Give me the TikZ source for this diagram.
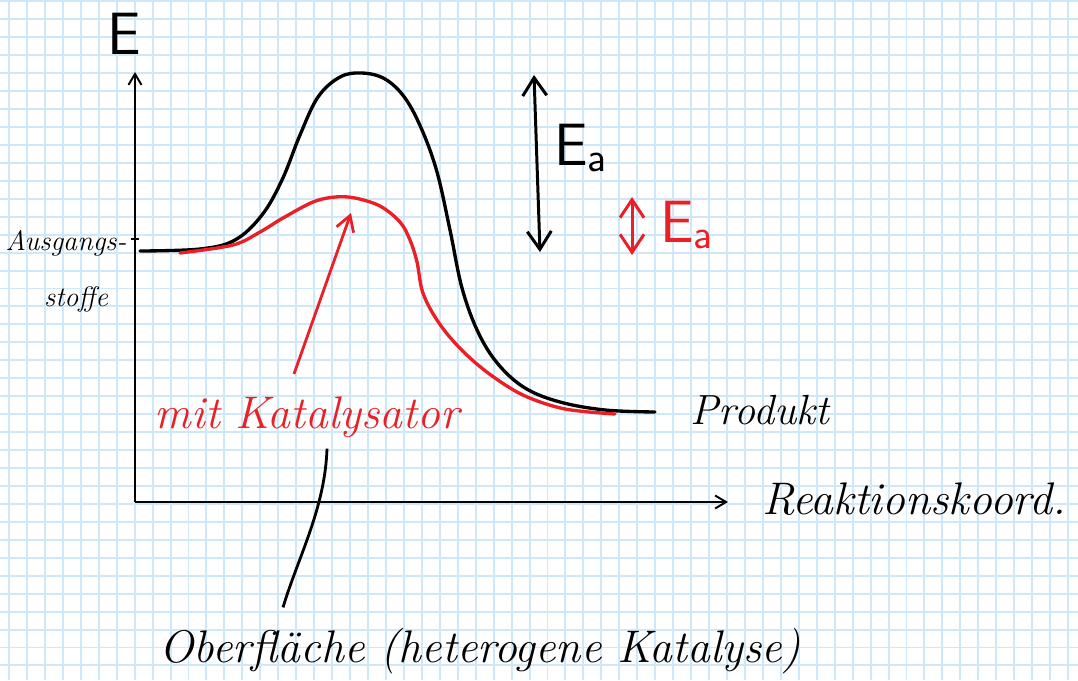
\documentclass[tikz,border=0pt]{standalone}
\usepackage{fontspec}
\usepackage{tikz}
\usetikzlibrary{positioning,arrows.meta,calc}

\definecolor{gridblue}{RGB}{206,232,250}
\definecolor{penred}{RGB}{234,32,38}

\tikzset{
  gridline/.style={gridblue, line width=1.1pt},
  axisline/.style={black, line width=1.1pt, -{Straight Barb[length=0.22cm, width=0.26cm]}},
  curveline/.style={line width=1.9pt, line cap=round, line join=round},
  handlabel/.style={font=\fontsize{26}{30}\selectfont\itshape, inner sep=0pt, anchor=base},
  smalllabel/.style={font=\fontsize{16}{19}\selectfont\itshape, inner sep=0pt, anchor=base},
  ealabel/.style={font=\fontsize{34}{38}\selectfont\sffamily, inner sep=0pt},
  eaarrow/.style={line width=1.7pt, {Straight Barb[length=0.36cm, width=0.48cm]}-{Straight Barb[length=0.36cm, width=0.48cm]}},
}

\begin{document}
\begin{tikzpicture}[x=0.02cm, y=-0.02cm]
    % paper
    \useasboundingbox (0,0) rectangle (1078,680);
    \fill[white] (0,0) rectangle (1078,680);
    \foreach \gx in {9,26.95,...,1078} {
        \draw[gridline] (\gx,0) -- (\gx,680);
    }
    \foreach \gy in {1.3,19.25,...,680} {
        \draw[gridline] (0,\gy) -- (1078,\gy);
    }

    % axes
    \coordinate (origin) at (135,502);
    \coordinate (ytip) at (135,72);
    \coordinate (xtip) at (728,502);
    \draw[axisline] (origin) -- (ytip);
    \draw[axisline] (origin) -- (xtip);
    \draw[line width=1pt] (131,239) -- (139,239);

    % without catalyst
    \draw[curveline] plot[smooth, tension=0.6] coordinates {
        (140,251) (200,249) (235,240) (262,215) (282,180) (300,135) (318,97)
        (340,77) (362,73) (385,79) (405,98) (422,130) (437,172) (450,230)
        (462,288) (478,332) (498,364) (525,388) (560,402) (605,410) (655,412)};
    % with catalyst
    \draw[curveline, penred] plot[smooth, tension=0.55] coordinates {
        (180,253) (233,245) (260,232) (283,218) (313,202) (335,197) (355,198)
        (380,206) (400,222) (410,240) (417,262) (422,290) (432,312) (448,335)
        (470,358) (495,378) (525,396) (565,409) (615,414)};

    % activation energies
    \coordinate (eaTop) at (534,75);
    \coordinate (eaBot) at (540,252);
    \draw[eaarrow] (eaTop) -- (eaBot);
    \coordinate (redTop) at (632,197);
    \coordinate (redBot) at (632,255);
    \draw[eaarrow, penred] (redTop) -- (redBot);

    % labels
    \node[ealabel] (Elabel) at (124,34) {E};
    \node[ealabel, anchor=west] (ea) at (554,148) {E$_{\mathsf{a}}$};
    \node[ealabel, anchor=west, penred] (eaRed) at (660,225) {E$_{\mathsf{a}}$};
    \node[smalllabel] (edukt) at (66,250) {Ausgangs-};
    \node[smalllabel] (edukt2) at (76,306) {stoffe};
    \node[handlabel, font=\fontsize{24}{28}\selectfont\itshape] (produkt) at (760,424) {Produkt};
    \node[handlabel] (rkoord) at (914,514) {Reaktionskoord.};
    \node[handlabel, penred] (kat) at (307,428) {mit Katalysator};
    \node[handlabel] (ober) at (480,662) {Oberfläche (heterogene Katalyse)};

    % pointers
    \coordinate (redPeak) at (351,213);
    \draw[penred, line width=1.6pt, -{Straight Barb[length=0.3cm, width=0.36cm]}]
        ($(kat.north)+(-13,-22)$) -- (redPeak);
    \draw[line width=1.6pt]
        ($(ober.north)+(-197,-20)$) .. controls +(15,-50) and +(-2,60) .. ($(kat.south)+(20,11)$);
\end{tikzpicture}
\end{document}
